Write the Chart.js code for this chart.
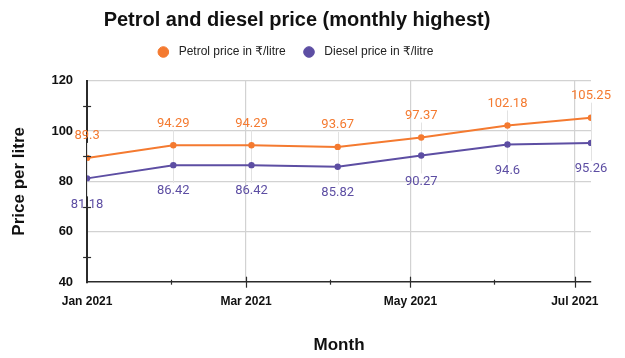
<!DOCTYPE html>
<html>
<head>
<meta charset="utf-8">
<script src="https://cdn.jsdelivr.net/npm/chart.js@4"></script>
<style>
  html, body { margin: 0; padding: 0; background: #fff; }
  #wrap { width: 625px; height: 358px; }
</style>
</head>
<body>
<div id="wrap"><canvas id="c"></canvas></div>
<script>
// ---- data ----
const pointDates = ['2021-01-01','2021-02-02','2021-03-03','2021-04-04','2021-05-05','2021-06-06','2021-07-07'];
const petrolPrices = [89.3, 94.29, 94.29, 93.67, 97.37, 102.18, 105.25];
const dieselPrices = [81.18, 86.42, 86.42, 85.82, 90.27, 94.6, 95.26];
const monthTickDates = ['2021-01-01','2021-02-01','2021-03-01','2021-04-01','2021-05-01','2021-06-01','2021-07-01'];
const monthTickLabels = ['Jan 2021','','Mar 2021','','May 2021','','Jul 2021'];
const seriesNames = ['Petrol price in \u20B9/litre', 'Diesel price in \u20B9/litre'];
const chartTitle = 'Petrol and diesel price (monthly highest)';
const xTitle = 'Month';
const yTitle = 'Price per litre';

// day offsets from the first date (time axis as linear days)
const base = Date.parse(pointDates[0] + 'T00:00:00Z');
const toDay = s => Math.round((Date.parse(s + 'T00:00:00Z') - base) / 86400000);
const pointDays = pointDates.map(toDay);
const tickDays = monthTickDates.map(toDay);
const tickLabelByDay = {};
tickDays.forEach((d, i) => tickLabelByDay[d] = monthTickLabels[i]);

const ORANGE = '#f47a30';
const PURPLE = '#5d4ea3';
const GRID = '#d2d2d2';
const AXIS = '#2b2b2b';

const labelPlugin = {
  id: 'labelPlugin',
  afterInit(chart) {
    const lg = chart.legend;
    if (lg) {
      const orig = lg.fit;
      lg.fit = function () { orig.call(this); this.height += 12.5; };
    }
  },
  beforeDatasetsDraw(chart) {
    const ctx = chart.ctx;
    const m0 = chart.getDatasetMeta(0).data;
    const m1 = chart.getDatasetMeta(1).data;
    ctx.save();
    ctx.strokeStyle = '#e2e2e2';
    ctx.lineWidth = 1;
    for (let i = 0; i < m0.length; i++) {
      const x = Math.round(m0[i].x) + 0.5;
      ctx.beginPath();
      ctx.moveTo(x, m0[i].y - 15);
      ctx.lineTo(x, m1[i].y + 18);
      ctx.stroke();
    }
    ctx.restore();
  },
  afterDatasetsDraw(chart) {
    const ctx = chart.ctx;
    ctx.save();
    ctx.font = '13px Roboto, "Liberation Sans", sans-serif';
    ctx.textAlign = 'center';
    ctx.textBaseline = 'middle';
    const sets = [[0, ORANGE, -22], [1, PURPLE, 26]];
    sets.forEach(([di, col, off]) => {
      const meta = chart.getDatasetMeta(di);
      const vals = chart.data.datasets[di].data;
      ctx.fillStyle = col;
      meta.data.forEach((pt, i) => {
        ctx.fillText(String(vals[i].y), pt.x, pt.y + off);
      });
    });
    ctx.restore();
  },
  afterDraw(chart) {
    const ctx = chart.ctx;
    const xs = chart.scales.x, ys = chart.scales.y;
    const area = chart.chartArea;
    ctx.save();
    ctx.strokeStyle = AXIS;
    ctx.lineWidth = 1.2;
    ys.ticks.forEach(t => {
      if (t.value % 20 !== 0) {
        const y = Math.round(ys.getPixelForValue(t.value)) + 0.5;
        ctx.beginPath();
        ctx.moveTo(area.left - 4, y);
        ctx.lineTo(area.left + 4, y);
        ctx.stroke();
      }
    });
    xs.ticks.forEach(t => {
      if (t.value === 0) return;
      const x = Math.round(xs.getPixelForValue(t.value)) + 0.5;
      const len = tickLabelByDay[t.value] ? 5.5 : 2.5;
      ctx.beginPath();
      ctx.moveTo(x, area.bottom - len);
      ctx.lineTo(x, area.bottom + len);
      ctx.stroke();
    });
    ctx.restore();
  }
};

new Chart(document.getElementById('c'), {
  type: 'line',
  data: {
    datasets: [
      {
        label: seriesNames[0],
        data: pointDays.map((d, i) => ({ x: d, y: petrolPrices[i] })),
        borderColor: ORANGE, backgroundColor: ORANGE,
        borderWidth: 2, pointRadius: 2.2, pointHoverRadius: 2.2, tension: 0
      },
      {
        label: seriesNames[1],
        data: pointDays.map((d, i) => ({ x: d, y: dieselPrices[i] })),
        borderColor: PURPLE, backgroundColor: PURPLE,
        borderWidth: 2, pointRadius: 2.2, pointHoverRadius: 2.2, tension: 0
      }
    ]
  },
  options: {
    responsive: true,
    maintainAspectRatio: false,
    animation: false,
    events: [],
    layout: { padding: { left: 3, right: 34, top: 0, bottom: 2 } },
    plugins: {
      title: {
        display: true, text: chartTitle, color: '#111',
        font: { family: '"Liberation Sans", Arial, sans-serif', size: 20, weight: 'bold' },
        padding: { top: 8, bottom: 0 }
      },
      legend: {
        display: true,
        labels: {
          usePointStyle: true, pointStyle: 'circle', boxWidth: 12, boxHeight: 7.5,
          color: '#222', padding: 14,
          font: { family: '"Liberation Sans", Arial, "DejaVu Sans", sans-serif', size: 12 },
          generateLabels(chart) {
            return Chart.defaults.plugins.legend.labels.generateLabels(chart).map(l => {
              l.text = ' ' + l.text + ' ';
              l.lineWidth = 1;
              return l;
            });
          }
        }
      },
      tooltip: { enabled: false }
    },
    scales: {
      x: {
        type: 'linear',
        min: 0,
        max: pointDays[pointDays.length - 1],
        afterBuildTicks(scale) { scale.ticks = tickDays.map(v => ({ value: v })); },
        ticks: {
          autoSkip: false, maxRotation: 0, padding: 12, color: '#111',
          font: { family: '"Liberation Sans", Arial, sans-serif', size: 12, weight: 'bold' },
          callback: v => tickLabelByDay[v] || ''
        },
        grid: {
          drawTicks: false,
          color: c => (c.tick && tickLabelByDay[c.tick.value] && c.tick.value !== 0) ? GRID : 'rgba(0,0,0,0)',
          lineWidth: 1.2
        },
        border: { display: true, color: AXIS, width: 1.5 },
        title: {
          display: true, text: xTitle, color: '#111',
          font: { family: '"Liberation Sans", Arial, sans-serif', size: 17, weight: 'bold' },
          padding: { top: 15, bottom: 0 }
        }
      },
      y: {
        min: 40, max: 120,
        ticks: {
          stepSize: 10, padding: 14, color: '#111',
          font: { family: '"Liberation Sans", Arial, sans-serif', size: 13, weight: 'bold' },
          callback: v => (v % 20 === 0 ? String(v) : '')
        },
        grid: {
          drawTicks: false,
          color: c => (c.tick && c.tick.value % 20 === 0 && c.tick.value !== 40) ? GRID : 'rgba(0,0,0,0)',
          lineWidth: 1.2
        },
        border: { display: true, color: AXIS, width: 2 },
        title: {
          display: true, text: yTitle, color: '#111',
          font: { family: '"Liberation Sans", Arial, sans-serif', size: 17, weight: 'bold' },
          padding: { top: 6, bottom: 8 }
        }
      }
    }
  },
  plugins: [labelPlugin]
});
</script>
</body>
</html>
